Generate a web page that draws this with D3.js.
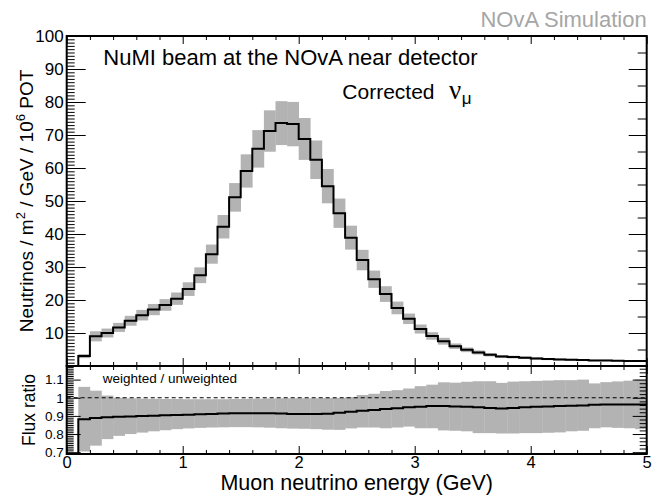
<!DOCTYPE html>
<html><head><meta charset="utf-8">
<script src="https://cdn.jsdelivr.net/npm/d3@7"></script>
<style>
body{margin:0;background:#fff}
svg{display:block}
text{font-family:"Liberation Sans",Arial,Helvetica,sans-serif}
</style>
</head><body>
<svg id="c" width="662" height="496"></svg>
<script>
// ---------------- data ----------------
const binEdges = [0,0.1,0.2,0.3,0.4,0.5,0.6,0.7,0.8,0.9,1.0,1.1,1.2,1.3,1.4,1.5,1.6,1.7,1.8,1.9,
  2.0,2.1,2.2,2.3,2.4,2.5,2.6,2.7,2.8,2.9,3.0,3.1,3.2,3.3,3.4,3.5,3.6,3.7,3.8,3.9,
  4.0,4.1,4.2,4.3,4.4,4.5,4.6,4.7,4.8,4.9,5.0];
const flux = [0,3.0,9.0,10.0,11.7,13.7,15.4,17.1,18.5,20.4,
  23.3,27.5,33.9,42.2,51.1,59.1,65.8,71.2,73.6,73.3,
  68.8,62.5,54.5,46.3,38.9,32.1,26.3,21.8,17.6,14.3,
  11.2,9.1,7.5,6.0,4.9,4.1,3.4,2.9,2.7,2.5,
  2.3,2.1,2.0,1.9,1.8,1.7,1.7,1.6,1.5,1.5];
const fluxErr = [0,0.61,1.53,1.35,1.37,1.50,1.60,1.70,1.76,1.87,
  2.07,2.39,2.90,3.56,4.33,5.04,5.68,6.27,6.65,6.72,
  6.35,5.84,5.20,4.44,3.62,3.10,2.62,2.38,1.92,1.59,
  1.37,1.14,1.04,0.83,0.70,0.62,0.51,0.43,0.41,0.38,
  0.35,0.32,0.30,0.28,0.26,0.22,0.22,0.21,0.20,0.21];
const ratio = [0,0.882,0.889,0.892,0.895,0.897,0.899,0.901,0.903,0.905,
  0.907,0.909,0.911,0.913,0.914,0.915,0.915,0.914,0.913,0.911,
  0.910,0.910,0.912,0.917,0.923,0.928,0.933,0.938,0.942,0.947,
  0.950,0.954,0.955,0.952,0.951,0.948,0.943,0.941,0.944,0.947,
  0.950,0.952,0.955,0.956,0.957,0.962,0.963,0.963,0.963,0.963];
const ratioHigh = [null,1.060,1.039,1.012,1.000,0.997,0.995,0.994,0.993,0.993,
  0.992,0.992,0.992,0.992,0.993,0.994,0.995,0.996,0.997,0.997,
  0.997,0.997,0.998,0.999,1.003,1.015,1.022,1.037,1.042,1.051,
  1.064,1.072,1.085,1.083,1.088,1.091,1.091,1.082,1.089,1.091,
  1.093,1.095,1.097,1.097,1.100,1.079,1.086,1.090,1.094,1.101];
const ratioLow = [null,0.704,0.736,0.772,0.790,0.800,0.808,0.815,0.821,0.827,
  0.831,0.834,0.836,0.837,0.838,0.838,0.837,0.835,0.832,0.830,
  0.829,0.827,0.824,0.823,0.831,0.836,0.836,0.832,0.836,0.841,
  0.832,0.832,0.820,0.818,0.815,0.805,0.805,0.803,0.803,0.805,
  0.805,0.807,0.809,0.815,0.818,0.832,0.837,0.834,0.832,0.827];
const xTicks = [0,1,2,3,4,5];
const xTickLabels = ["0","1","2","3","4","5"];
const yTopTicks = [10,20,30,40,50,60,70,80,90,100];
const yBotTicks = [0.7,0.8,0.9,1.0,1.1];
const yBotTickLabels = ["0.7","0.8","0.9","1","1.1"];

// ---------------- layout ----------------
const svg = d3.select("#c");
const X0 = 66.7, X1 = 646.7;
const x = d3.scaleLinear([0,5],[X0,X1]);
const yT = d3.scaleLinear([0,100],[366,36]);
const yB = d3.scaleLinear([0.69,1.175],[454,366]);
const band = "#b3b3b3";

const defs = svg.append("defs");
defs.append("clipPath").attr("id","clipT").append("rect")
  .attr("x",X0).attr("y",36).attr("width",X1-X0).attr("height",330);
defs.append("clipPath").attr("id","clipB").append("rect")
  .attr("x",X0).attr("y",366).attr("width",X1-X0).attr("height",88);

const bins = flux.map((v,i)=>({lo:binEdges[i],hi:binEdges[i+1],v,e:fluxErr[i],r:ratio[i],rl:ratioLow[i],rh:ratioHigh[i]}));

// top band
const gT = svg.append("g").attr("clip-path","url(#clipT)");
gT.selectAll("rect.band").data(bins.filter(d=>d.e>0)).join("rect")
  .attr("x",d=>x(d.lo)).attr("width",d=>x(d.hi)-x(d.lo)+0.3)
  .attr("y",d=>yT(d.v+d.e)).attr("height",d=>yT(d.v-d.e)-yT(d.v+d.e))
  .attr("fill",band);
const stepPts = bins.map(d=>[d.lo,d.v]).concat([[5,flux[flux.length-1]]]);
gT.append("path")
  .attr("d", d3.line().x(d=>x(d[0])).y(d=>yT(d[1])).curve(d3.curveStepAfter)(stepPts))
  .attr("fill","none").attr("stroke","#000").attr("stroke-width",2);

// bottom band
const gB = svg.append("g").attr("clip-path","url(#clipB)");
gB.selectAll("rect.band").data(bins.filter(d=>d.rl!==null)).join("rect")
  .attr("x",d=>x(d.lo)).attr("width",d=>x(d.hi)-x(d.lo)+0.3)
  .attr("y",d=>yB(d.rh)).attr("height",d=>yB(d.rl)-yB(d.rh))
  .attr("fill",band);
gB.append("line").attr("x1",X0).attr("x2",X1).attr("y1",yB(1)).attr("y2",yB(1))
  .attr("stroke","#000").attr("stroke-width",1).attr("stroke-dasharray","4,3");
const rPts = bins.map(d=>[d.lo,Math.max(d.r,0.688)]).concat([[5,ratio[ratio.length-1]]]);
gB.append("path")
  .attr("d", d3.line().x(d=>x(d[0])).y(d=>yB(d[1])).curve(d3.curveStepAfter)(rPts))
  .attr("fill","none").attr("stroke","#000").attr("stroke-width",2);

// axes helper
function axis(fn, scale, vals, size, tr, fmt, fs){
  const a = fn(scale).tickValues(vals).tickSize(size).tickSizeOuter(0).tickPadding(3);
  a.tickFormat(fmt ? fmt : "");
  const g = svg.append("g").attr("transform",tr).call(a);
  g.select(".domain").remove();
  g.selectAll("line").attr("stroke","#000").attr("stroke-width",1);
  g.selectAll("text").attr("fill","#000").attr("font-size",fs||12)
    .attr("font-family",'"Liberation Sans",Arial,sans-serif');
  return g;
}
const minorX = d3.range(0,5.001,0.2).filter(v=>Math.abs(v-Math.round(v))>1e-6);
// top panel
axis(d3.axisBottom,x,xTicks,-8,`translate(0,366)`);
axis(d3.axisBottom,x,minorX,-4,`translate(0,366)`);
axis(d3.axisTop,x,xTicks,-8,`translate(0,36)`);
axis(d3.axisTop,x,minorX,-4,`translate(0,36)`);
axis(d3.axisLeft,yT,yTopTicks,-19,`translate(${X0},0)`,d=>d3.format("d")(d),17);
axis(d3.axisLeft,yT,d3.range(1,100,1).filter(v=>v%10!==0),-8,`translate(${X0},0)`);
axis(d3.axisRight,yT,yTopTicks,-18,`translate(${X1},0)`);
axis(d3.axisRight,yT,d3.range(5,100,10),-9,`translate(${X1},0)`);
// bottom panel
axis(d3.axisBottom,x,xTicks,-8,`translate(0,454)`,(d,i)=>xTickLabels[i],16.5).selectAll("text").attr("dy","0.71em").attr("y",2);
axis(d3.axisBottom,x,minorX,-4,`translate(0,454)`);
axis(d3.axisTop,x,xTicks,-8,`translate(0,366)`);
axis(d3.axisTop,x,minorX,-4,`translate(0,366)`);
axis(d3.axisLeft,yB,yBotTicks,-14,`translate(${X0},0)`,(d,i)=>yBotTickLabels[i],13.5);
axis(d3.axisLeft,yB,d3.range(0.70,1.171,0.01).filter(v=>Math.abs(v*10-Math.round(v*10))>1e-6),-7,`translate(${X0},0)`);
axis(d3.axisRight,yB,yBotTicks,-14,`translate(${X1},0)`);
axis(d3.axisRight,yB,d3.range(0.70,1.171,0.02).filter(v=>Math.abs(v*10-Math.round(v*10))>1e-6),-7,`translate(${X1},0)`);

// frames
svg.append("rect").attr("x",X0).attr("y",36).attr("width",X1-X0).attr("height",330)
  .attr("fill","none").attr("stroke","#000").attr("stroke-width",2);
svg.append("rect").attr("x",X0).attr("y",366).attr("width",X1-X0).attr("height",88)
  .attr("fill","none").attr("stroke","#000").attr("stroke-width",2);

// texts
svg.append("text").attr("x",X1).attr("y",26.5).attr("text-anchor","end")
  .attr("font-size",22).attr("fill","#a6a6a6").text("NOvA Simulation");
svg.append("text").attr("x",103.3).attr("y",65).attr("font-size",22)
  .text("NuMI beam at the NOvA near detector");
svg.append("text").attr("x",342.3).attr("y",99.3).attr("font-size",21).text("Corrected");
const nu = svg.append("text").attr("x",449).attr("y",99.3);
nu.append("tspan").attr("font-family",'"Liberation Serif","Times New Roman",serif').attr("font-size",27).text("ν");
nu.append("tspan").attr("font-size",17).attr("dy",5).attr("dx",0.5).text("μ");

const yt = svg.append("text").attr("transform","translate(33,201) rotate(-90)")
  .attr("text-anchor","middle").attr("font-size",19);
yt.append("tspan").text("Neutrinos / m");
yt.append("tspan").attr("font-size",13).attr("dy",-8).text("2");
yt.append("tspan").attr("dy",8).text(" / GeV / 10");
yt.append("tspan").attr("font-size",13).attr("dy",-8).text("6");
yt.append("tspan").attr("dy",8).text(" POT");

svg.append("text").attr("transform","translate(35,410) rotate(-90)")
  .attr("text-anchor","middle").attr("font-size",17.5).text("Flux ratio");
svg.append("text").attr("x",(X0+X1)/2).attr("y",490).attr("text-anchor","middle")
  .attr("font-size",21.5).text("Muon neutrino energy (GeV)");
svg.append("text").attr("x",102.7).attr("y",383.3).attr("font-size",13.5)
  .text("weighted / unweighted");
</script>
</body></html>
